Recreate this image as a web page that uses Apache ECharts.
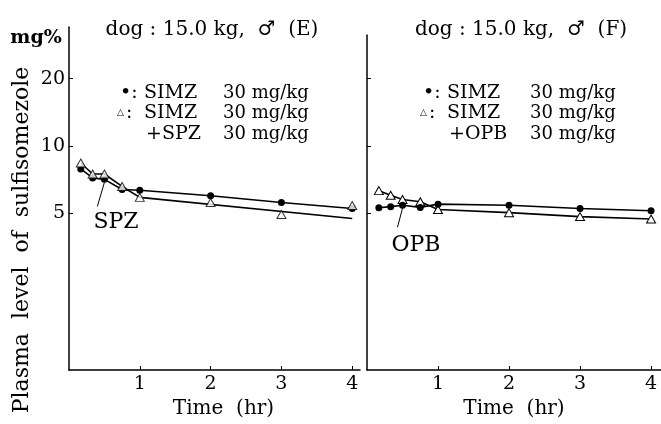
<!DOCTYPE html>
<html><head><meta charset="utf-8">
<script src="https://cdn.jsdelivr.net/npm/echarts@6/dist/echarts.min.js"></script>
<style>html,body{margin:0;padding:0;background:#fff}#c{width:661px;height:424px}</style>
</head><body><div id="c"></div>
<script>
// ---- data ----
const times = [1/6, 1/3, 0.5, 0.75, 1, 2, 3, 4];           // hr
const E_simz = [7.9, 7.2, 7.1, 6.4, 6.35, 6.0, 5.6, 5.26];   // mg%  (filled circles)
const E_simzSpz = [8.4, 7.5, 7.5, 6.6, 5.9, 5.6, 4.95, 5.43]; // mg% (open triangles)
const E_spzLineTimes = [1/6, 1/3, 0.5, 0.75, 1, 4];          // drawn line for triangles
const E_spzLine = [8.4, 7.5, 7.5, 6.6, 5.9, 4.75];
const F_simz = [5.30, 5.36, 5.44, 5.32, 5.50, 5.44, 5.26, 5.14];
const F_simzOpb = [6.32, 6.03, 5.77, 5.64, 5.21, 5.04, 4.84, 4.72];
const xTicks = [1, 2, 3, 4];
const yTicks = [5, 10, 20];
const titles = ['dog : 15.0 kg,  \u2642  (E)', 'dog : 15.0 kg,  \u2642  (F)'];

const pairs = (t, v) => t.map((x, i) => [x, v[i]]);
const FF = "'DejaVu Serif','Liberation Serif',serif";
const BLK = '#000';

const chart = echarts.init(document.getElementById('c'), null, {renderer: 'canvas'});

function xAxis(gi, max, nameShift) {
  return {
    type: 'value', gridIndex: gi, min: 0, max: max,
    axisLine: {show: true, onZero: false, lineStyle: {color: BLK, width: 1.5}},
    axisTick: {show: true, inside: true, length: 4, customValues: xTicks, lineStyle: {color: BLK}},
    axisLabel: {show: true, customValues: xTicks, color: BLK, fontSize: 19, fontFamily: FF, margin: 5},
    splitLine: {show: false},
    name: 'Time  (hr)', nameLocation: 'middle', nameGap: 29,
    nameTextStyle: {color: BLK, fontSize: 20, fontFamily: FF, padding: [0, 0, 0, nameShift]}
  };
}
function yAxis(gi, max, labels) {
  return {
    type: 'log', logBase: 10, gridIndex: gi, min: 1, max: max,
    axisLine: {show: true, onZero: false, lineStyle: {color: BLK, width: 1.5}},
    axisTick: {show: true, inside: true, length: 4, customValues: yTicks, lineStyle: {color: BLK}},
    axisLabel: {show: labels, customValues: yTicks, color: BLK, fontSize: 19, fontFamily: FF, margin: 4},
    splitLine: {show: false}, minorTick: {show: false}
  };
}
const lineStyle = {color: BLK, width: 1.6};
const dotStyle = {color: BLK};
const triStyle = {color: '#fff', borderColor: BLK, borderWidth: 1};

const option = {
  animation: false,
  backgroundColor: '#fff',
  grid: [
    {left: 69, top: 27, width: 291, height: 346},
    {left: 367, top: 35, width: 294, height: 338}
  ],
  xAxis: [xAxis(0, 4.11, 18), xAxis(1, 4.14, 0)],
  yAxis: [yAxis(0, 34, true), yAxis(1, 31.3, false)],
  series: [
    {type: 'line', xAxisIndex: 0, yAxisIndex: 0, data: pairs(E_spzLineTimes, E_spzLine),
     showSymbol: false, symbol: 'none', lineStyle: lineStyle, z: 2},
    {type: 'line', xAxisIndex: 0, yAxisIndex: 0, data: pairs(times, E_simz),
     symbol: 'circle', symbolSize: 7, itemStyle: dotStyle, lineStyle: lineStyle, z: 3},
    {type: 'scatter', xAxisIndex: 0, yAxisIndex: 0, data: pairs(times, E_simzSpz),
     symbol: 'triangle', symbolSize: [9, 8], itemStyle: triStyle, z: 4},
    {type: 'line', xAxisIndex: 1, yAxisIndex: 1, data: pairs(times, F_simzOpb),
     symbol: 'triangle', symbolSize: [9, 8], itemStyle: triStyle, lineStyle: lineStyle, z: 3},
    {type: 'line', xAxisIndex: 1, yAxisIndex: 1, data: pairs(times, F_simz),
     symbol: 'circle', symbolSize: 7, itemStyle: dotStyle, lineStyle: lineStyle, z: 4}
  ]
};
chart.setOption(option);

// annotations anchored to data points
const pE = chart.convertToPixel({gridIndex: 0}, [times[2], E_simz[2]]);
const pF = chart.convertToPixel({gridIndex: 1}, [times[2], F_simz[2]]);

function txt(x, y, s, size, align, weight) {
  return {type: 'text', x: x, y: y, style: {text: s, fill: BLK, font: (weight || '') + ' ' + size + 'px ' + FF,
    textAlign: align || 'left', textVerticalAlign: 'middle'}};
}
const legendRows = (x0, xs, xv, drug) => [
  txt(x0, 93, '\u2022:', 19), txt(xs, 93, 'SIMZ', 19), txt(xv, 93, '30 mg/kg', 18),
  txt(x0 - 3, 113, '\u25B3', 9), txt(x0 + 6, 113, ':', 19), txt(xs, 113, 'SIMZ', 19), txt(xv, 113, '30 mg/kg', 18),
  txt(xs + 2, 134, '+' + drug, 19), txt(xv, 134, '30 mg/kg', 18)
];

chart.setOption({
  graphic: [
    txt(212, 30, titles[0], 20, 'center'),
    txt(521, 30, titles[1], 20, 'center'),
    txt(36, 38, 'mg%', 19, 'center', 'bold'),
    {type: 'text', x: 22, y: 240, rotation: Math.PI / 2,
     style: {text: 'Plasma  level  of  sulfisomezole', fill: BLK, font: '22px ' + FF, textAlign: 'center', textVerticalAlign: 'middle'}},
    ...legendRows(120, 144, 223, 'SPZ'),
    ...legendRows(423, 447, 530, 'OPB'),
    txt(116, 222, 'SPZ', 22, 'center'),
    txt(416, 245, 'OPB', 22, 'center'),
    {type: 'line', shape: {x1: pE[0], y1: pE[1] + 3, x2: pE[0] - 7, y2: pE[1] + 27}, style: {stroke: BLK, lineWidth: 1}},
    {type: 'line', shape: {x1: pF[0], y1: pF[1] + 3, x2: pF[0] - 5, y2: pF[1] + 22}, style: {stroke: BLK, lineWidth: 1}}
  ]
});
</script></body></html>
